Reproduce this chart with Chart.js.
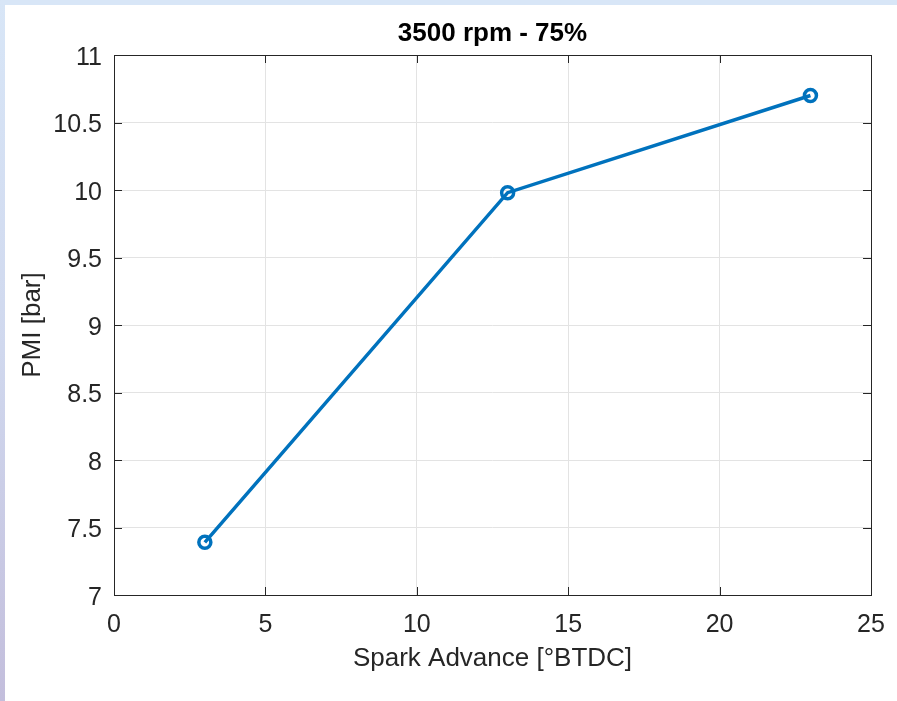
<!DOCTYPE html>
<html>
<head>
<meta charset="utf-8">
<script src="https://cdn.jsdelivr.net/npm/chart.js@4.4.1/dist/chart.umd.min.js"></script>
<style>
  html, body { margin: 0; padding: 0; background: #fff; }
  body { width: 897px; height: 701px; position: relative; overflow: hidden; }
  .strip-top { position: absolute; left: 0; top: 0; width: 897px; height: 5px; background: #d8e6f7; }
  .strip-left { position: absolute; left: 0; top: 0; width: 5px; height: 701px;
    background: linear-gradient(to bottom, #d8e6f7 0%, #d0d8ee 50%, #c3bedc 100%); }
  #chart { position: absolute; left: 0; top: 0; }
</style>
</head>
<body>
<div class="strip-top"></div>
<div class="strip-left"></div>
<canvas id="chart" width="897" height="701"></canvas>
<script>
const sparkAdvance = [3, 13, 23];
const pmi = [7.39, 9.98, 10.70];
const xTicks = [0, 5, 10, 15, 20, 25];
const yTicks = [7, 7.5, 8, 8.5, 9, 9.5, 10, 10.5, 11];

const FONT = '"Liberation Sans", Arial, Helvetica, sans-serif';
const TEXT = '#262626';
const BLUE = '#0072BD';

// MATLAB-like box: frame on all sides plus inward ticks
const boxPlugin = {
  id: 'box',
  afterDraw(chart) {
    const { ctx, chartArea: a, scales: { x, y } } = chart;
    const len = 8;
    ctx.save();
    ctx.strokeStyle = TEXT;
    ctx.lineWidth = 1;
    ctx.beginPath();
    xTicks.forEach(v => {
      const px = Math.round(x.getPixelForValue(v)) + 0.5;
      ctx.moveTo(px, a.bottom); ctx.lineTo(px, a.bottom - len);
      ctx.moveTo(px, a.top); ctx.lineTo(px, a.top + len);
    });
    yTicks.forEach(v => {
      const py = Math.round(y.getPixelForValue(v)) + 0.5;
      ctx.moveTo(a.left, py); ctx.lineTo(a.left + len, py);
      ctx.moveTo(a.right, py); ctx.lineTo(a.right - len, py);
    });
    ctx.stroke();
    ctx.strokeRect(Math.round(a.left) + 0.5, Math.round(a.top) + 0.5,
      Math.round(a.right - a.left), Math.round(a.bottom - a.top));

    ctx.fillStyle = '#000';
    ctx.font = 'bold 26px ' + FONT;
    ctx.textAlign = 'center';
    ctx.textBaseline = 'middle';
    ctx.fillText('3500 rpm - 75%', (a.left + a.right) / 2, 33.5);
    ctx.restore();
  }
};

new Chart(document.getElementById('chart'), {
  type: 'line',
  data: {
    datasets: [{
      data: sparkAdvance.map((v, i) => ({ x: v, y: pmi[i] })),
      borderColor: BLUE,
      borderWidth: 3.5,
      pointRadius: 6,
      pointBorderWidth: 3.5,
      pointBackgroundColor: 'rgba(0,0,0,0)',
      pointBorderColor: BLUE,
      tension: 0
    }]
  },
  options: {
    responsive: false,
    animation: false,
    layout: { padding: { top: 55, right: 26, left: 0, bottom: 0 } },
    plugins: { legend: { display: false }, tooltip: { enabled: false } },
    scales: {
      x: {
        type: 'linear',
        min: 0, max: 25,
        afterBuildTicks: s => { s.ticks = xTicks.map(v => ({ value: v })); },
        afterFit: s => { s.height = 106; s.paddingLeft = 0; s.paddingRight = 0; },
        grid: { color: '#e3e3e3', drawTicks: false },
        border: { display: false },
        ticks: { padding: 15, color: TEXT, font: { family: FONT, size: 25 }, maxRotation: 0,
          callback: v => String(v) },
        title: {
          display: true, text: 'Spark Advance [°BTDC]', color: TEXT,
          font: { family: FONT, size: 26 }, padding: { top: 0, bottom: 27 }
        }
      },
      y: {
        min: 7, max: 11,
        afterBuildTicks: s => { s.ticks = yTicks.map(v => ({ value: v })); },
        afterFit: s => { s.width = 114; s.paddingTop = 0; s.paddingBottom = 0; },
        grid: { color: '#e3e3e3', drawTicks: false },
        border: { display: false },
        ticks: { padding: 12, labelOffset: 3, color: TEXT, font: { family: FONT, size: 25 },
          callback: v => String(v) },
        title: {
          display: true, text: 'PMI [bar]', color: TEXT,
          font: { family: FONT, size: 26 }, padding: { top: 17, bottom: 0 }
        }
      }
    }
  },
  plugins: [boxPlugin]
});
</script>
</body>
</html>
